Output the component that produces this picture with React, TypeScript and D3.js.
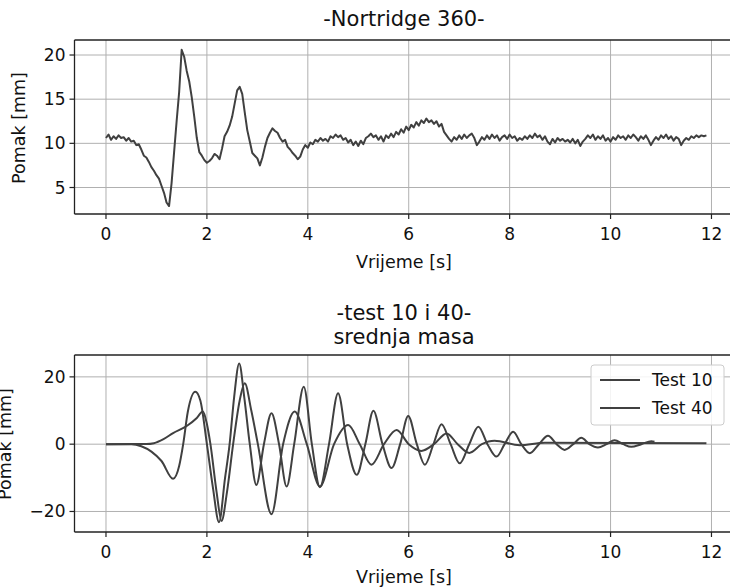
import React from "react";
import * as d3 from "d3";

// ---------- data ----------
const STEP = 0.05; // sampling interval of the Nortridge record [s]
const nortridge = [
  10.6, 11.0, 10.4, 10.8, 10.5, 10.9, 10.6, 10.7, 10.3, 10.6, 10.2, 10.3, 9.8, 9.9, 9.3, 8.6, 8.4, 7.9, 7.3, 6.9,
  6.4, 6.0, 5.2, 4.4, 3.3, 2.9, 5.5, 9.0, 12.5, 15.8, 20.6, 19.8, 18.2, 17.0, 15.2, 13.0, 10.6, 9.0, 8.6, 8.1,
  7.8, 8.0, 8.3, 8.8, 8.6, 8.2, 9.4, 10.8, 11.3, 12.0, 13.0, 14.5, 16.0, 16.4, 15.6, 13.5, 11.5, 10.2, 8.9, 8.6,
  8.3, 7.5, 8.4, 9.6, 10.6, 11.2, 11.7, 11.4, 11.2, 10.6, 10.2, 10.4, 9.6, 9.3, 8.9, 8.6, 8.2, 8.5, 9.3, 9.8,
  9.5, 10.1, 9.9, 10.4, 10.2, 10.6, 10.3, 10.5, 10.2, 10.8, 10.6, 11.0, 10.7, 10.9, 10.4, 10.6, 10.1, 10.4, 9.8, 10.2,
  9.7, 10.3, 9.9, 10.6, 10.8, 11.1, 10.7, 10.9, 10.4, 10.8, 10.2, 10.9, 10.6, 11.1, 10.7, 11.3, 11.0, 11.6, 11.2, 11.9,
  11.5, 12.1, 11.8, 12.4, 12.0, 12.6, 12.3, 12.8, 12.4, 12.6, 12.2, 12.5, 11.9, 12.2, 11.3, 10.9, 10.5, 10.2, 10.7, 10.4,
  10.9, 10.5, 11.0, 10.6, 10.9, 11.1, 10.6, 9.8, 10.2, 10.7, 10.4, 10.9, 10.5, 11.0, 10.6, 10.9, 10.3, 10.7, 10.9, 10.5,
  11.0, 10.6, 10.8, 10.3, 10.6, 10.4, 10.8, 10.5, 10.9, 10.6, 11.1, 10.7, 10.9, 10.4, 10.8, 10.2, 9.9, 10.5, 10.1, 10.6,
  10.3, 10.5, 10.2, 10.4, 10.1, 10.5, 10.0, 10.4, 9.7, 10.2, 10.5, 10.9, 10.6, 11.0, 10.4, 10.8, 10.5, 10.9, 10.3, 10.6,
  10.2, 10.7, 10.4, 10.9, 10.6, 10.8, 10.4, 10.9, 10.6, 11.0, 10.7, 10.3, 10.8, 10.5, 10.9, 10.4, 9.8, 10.3, 10.7, 10.4,
  10.9, 10.6, 11.0, 10.5, 10.8, 10.3, 10.7, 10.5, 9.8, 10.3, 10.6, 10.4, 10.8, 10.6, 10.9, 10.7, 10.9, 10.8, 10.9,
];

const test10T = [
  0, 0.5, 0.7, 0.9, 1.1, 1.33, 1.45, 1.53, 1.62, 1.77, 1.87, 2.0, 2.12, 2.24, 2.36, 2.45, 2.54, 2.64, 2.74, 2.85,
  2.98, 3.13, 3.28, 3.43, 3.58, 3.73, 3.92, 4.08, 4.24, 4.42, 4.6, 4.78, 4.97, 5.14, 5.3, 5.48, 5.66, 5.83, 5.99,
  6.16, 6.32, 6.49, 6.65, 6.83, 7.01, 7.2, 7.38, 7.56, 7.74, 7.9, 8.07, 8.23, 8.4, 8.58, 8.76, 8.93, 9.09, 9.26,
  9.42, 9.58, 9.75, 9.92, 10.08, 10.25, 10.41, 10.61, 10.81, 10.87,
];
const test10V = [
  0, 0, -0.6, -2.2, -5.0, -10.3, -6.5, 0, 9.5, 15.6, 13.0, 0, -13, -23.2, -10, 0, 14, 24.0, 14, 0,
  -12.1, 0, 9.2, 0, -12.6, 0, 17.1, 0, -12.8, 0, 15.1, 0, -9.1, 0, 9.9, 0, -7.1, 0, 8.4,
  0, -6.1, 0, 5.9, 0, -5.7, 0, 5.2, 0, -3.7, 0, 3.7, 0, -2.7, 0, 2.5, 0, -1.7, 0,
  1.9, 0, -1.0, 0, 1.2, 0, -0.8, 0, 0.9, 0.7,
];

const test40T = [
  0, 0.8, 0.95, 1.14, 1.33, 1.6, 1.8, 1.92, 2.0, 2.07, 2.19, 2.29, 2.4, 2.52, 2.65, 2.75, 2.88, 3.01, 3.28, 3.51,
  3.74, 3.98, 4.24, 4.52, 4.8, 5.03, 5.26, 5.51, 5.76, 6.0, 6.25, 6.5, 6.75, 6.97, 7.2, 7.45, 7.7, 8.2, 8.7, 11.9,
];
const test40V = [
  0, 0.05, 0.3, 1.5, 3.3, 5.4, 7.8, 9.7, 6, 0, -14, -22.8, -14, 0, 13, 18.1, 10, 0, -20.8, 0,
  9.7, 0, -12.6, 0, 5.7, 0, -6.1, 0, 4.2, 0, -2.0, 0, 3.2, 0, -2.6, 0, 1.0, -0.3, 0.4, 0.3,
];

const xTicks = [0, 2, 4, 6, 8, 10, 12];
const topYTicks = [5, 10, 15, 20];
const botYTicks = [-20, 0, 20];
const legendLabels = ["Test 10", "Test 40"];

// ---------- style ----------
const FONT = "'DejaVu Sans', sans-serif";
const LINE = "#404040";
const GRID = "#b0b0b0";
const SPINE = "#222";
const TICK_FS = 17;
const LABEL_FS = 17.5;
const TITLE_FS = 21;

const fmt = (v: number) => (v < 0 ? "\u2212" + Math.abs(v) : String(v));

const x = d3.scaleLinear().domain([-0.624, 12.5]).range([74.5, 736.7]);
const yTop = d3.scaleLinear().domain([2.0, 21.7]).range([214, 40]);
const yBot = d3.scaleLinear().domain([-26.1, 26.5]).range([532, 355]);

function Frame({ y, yTicks, id, children }: any) {
  const [bottom, top] = y.range();
  const [left, right] = x.range();
  return (
    <g>
      <defs>
        <clipPath id={id}>
          <rect x={left} y={top} width={right - left} height={bottom - top} />
        </clipPath>
      </defs>
      {xTicks.map((t) => (
        <line key={"gx" + t} x1={x(t)} x2={x(t)} y1={top} y2={bottom} stroke={GRID} strokeWidth={1} />
      ))}
      {yTicks.map((t: number) => (
        <line key={"gy" + t} x1={left} x2={right} y1={y(t)} y2={y(t)} stroke={GRID} strokeWidth={1} />
      ))}
      <g clipPath={`url(#${id})`}>{children}</g>
      <line x1={left} x2={left} y1={top} y2={bottom} stroke={SPINE} strokeWidth={1.3} />
      <line x1={left} x2={right} y1={top} y2={top} stroke={SPINE} strokeWidth={1.3} />
      <line x1={left} x2={right} y1={bottom} y2={bottom} stroke={SPINE} strokeWidth={1.3} />
      <line x1={right} x2={right} y1={top} y2={bottom} stroke={SPINE} strokeWidth={1.3} />
      {xTicks.map((t) => (
        <g key={"tx" + t}>
          <line x1={x(t)} x2={x(t)} y1={bottom} y2={bottom + 5} stroke={SPINE} strokeWidth={1.2} />
          <text x={x(t)} y={bottom + 26} textAnchor="middle" fontSize={TICK_FS} fill="#111">
            {fmt(t)}
          </text>
        </g>
      ))}
      {yTicks.map((t: number) => (
        <g key={"ty" + t}>
          <line x1={left - 5} x2={left} y1={y(t)} y2={y(t)} stroke={SPINE} strokeWidth={1.2} />
          <text x={left - 9} y={y(t) + 6} textAnchor="end" fontSize={TICK_FS} fill="#111">
            {fmt(t)}
          </text>
        </g>
      ))}
    </g>
  );
}

export default function App() {
  const topLine = d3
    .line<number>()
    .x((_, i) => x(i * STEP))
    .y((d) => yTop(d))(nortridge) as string;

  const smooth = (ts: number[], vs: number[]) =>
    d3
      .line<number>()
      .curve(d3.curveMonotoneX)
      .x((t) => x(t))
      .y((_, i) => yBot(vs[i]))(ts) as string;

  const l10 = smooth(test10T, test10V);
  const l40 = smooth(test40T, test40V);

  const cx = 404;

  return (
    <svg
      width={730}
      height={587}
      style={{ position: "absolute", left: 0, top: 0, background: "#fff" }}
      fontFamily={FONT}
    >
      <rect x={0} y={0} width={730} height={587} fill="#fff" />
      {/* top panel */}
      <text x={cx} y={26} textAnchor="middle" fontSize={TITLE_FS} fill="#111">
        -Nortridge 360-
      </text>
      <Frame y={yTop} yTicks={topYTicks} id="clipTop">
        <path d={topLine} fill="none" stroke={LINE} strokeWidth={2} strokeLinejoin="round" />
      </Frame>
      <text x={cx} y={268} textAnchor="middle" fontSize={LABEL_FS} fill="#111">
        Vrijeme [s]
      </text>
      <text transform="translate(25,128) rotate(-90)" textAnchor="middle" fontSize={LABEL_FS} fill="#111">
        Pomak [mm]
      </text>

      {/* bottom panel */}
      <text x={cx} y={320} textAnchor="middle" fontSize={TITLE_FS} fill="#111">
        -test 10 i 40-
      </text>
      <text x={cx} y={344} textAnchor="middle" fontSize={TITLE_FS} fill="#111">
        srednja masa
      </text>
      <Frame y={yBot} yTicks={botYTicks} id="clipBot">
        <path d={l40} fill="none" stroke={LINE} strokeWidth={2} strokeLinejoin="round" />
        <path d={l10} fill="none" stroke={LINE} strokeWidth={2} strokeLinejoin="round" />
      </Frame>
      <text x={cx} y={583} textAnchor="middle" fontSize={LABEL_FS} fill="#111">
        Vrijeme [s]
      </text>
      <text transform="translate(11,444) rotate(-90)" textAnchor="middle" fontSize={LABEL_FS} fill="#111">
        Pomak [mm]
      </text>

      {/* legend */}
      <g>
        <rect x={591} y={365} width={133} height={60} rx={3} fill="#fff" fillOpacity={0.85} stroke="#cccccc" />
        {legendLabels.map((lab, i) => (
          <g key={lab}>
            <line x1={600} x2={640} y1={380 + i * 28} y2={380 + i * 28} stroke={LINE} strokeWidth={2} />
            <text x={652} y={386 + i * 28} fontSize={TICK_FS} fill="#111">
              {lab}
            </text>
          </g>
        ))}
      </g>
    </svg>
  );
}
